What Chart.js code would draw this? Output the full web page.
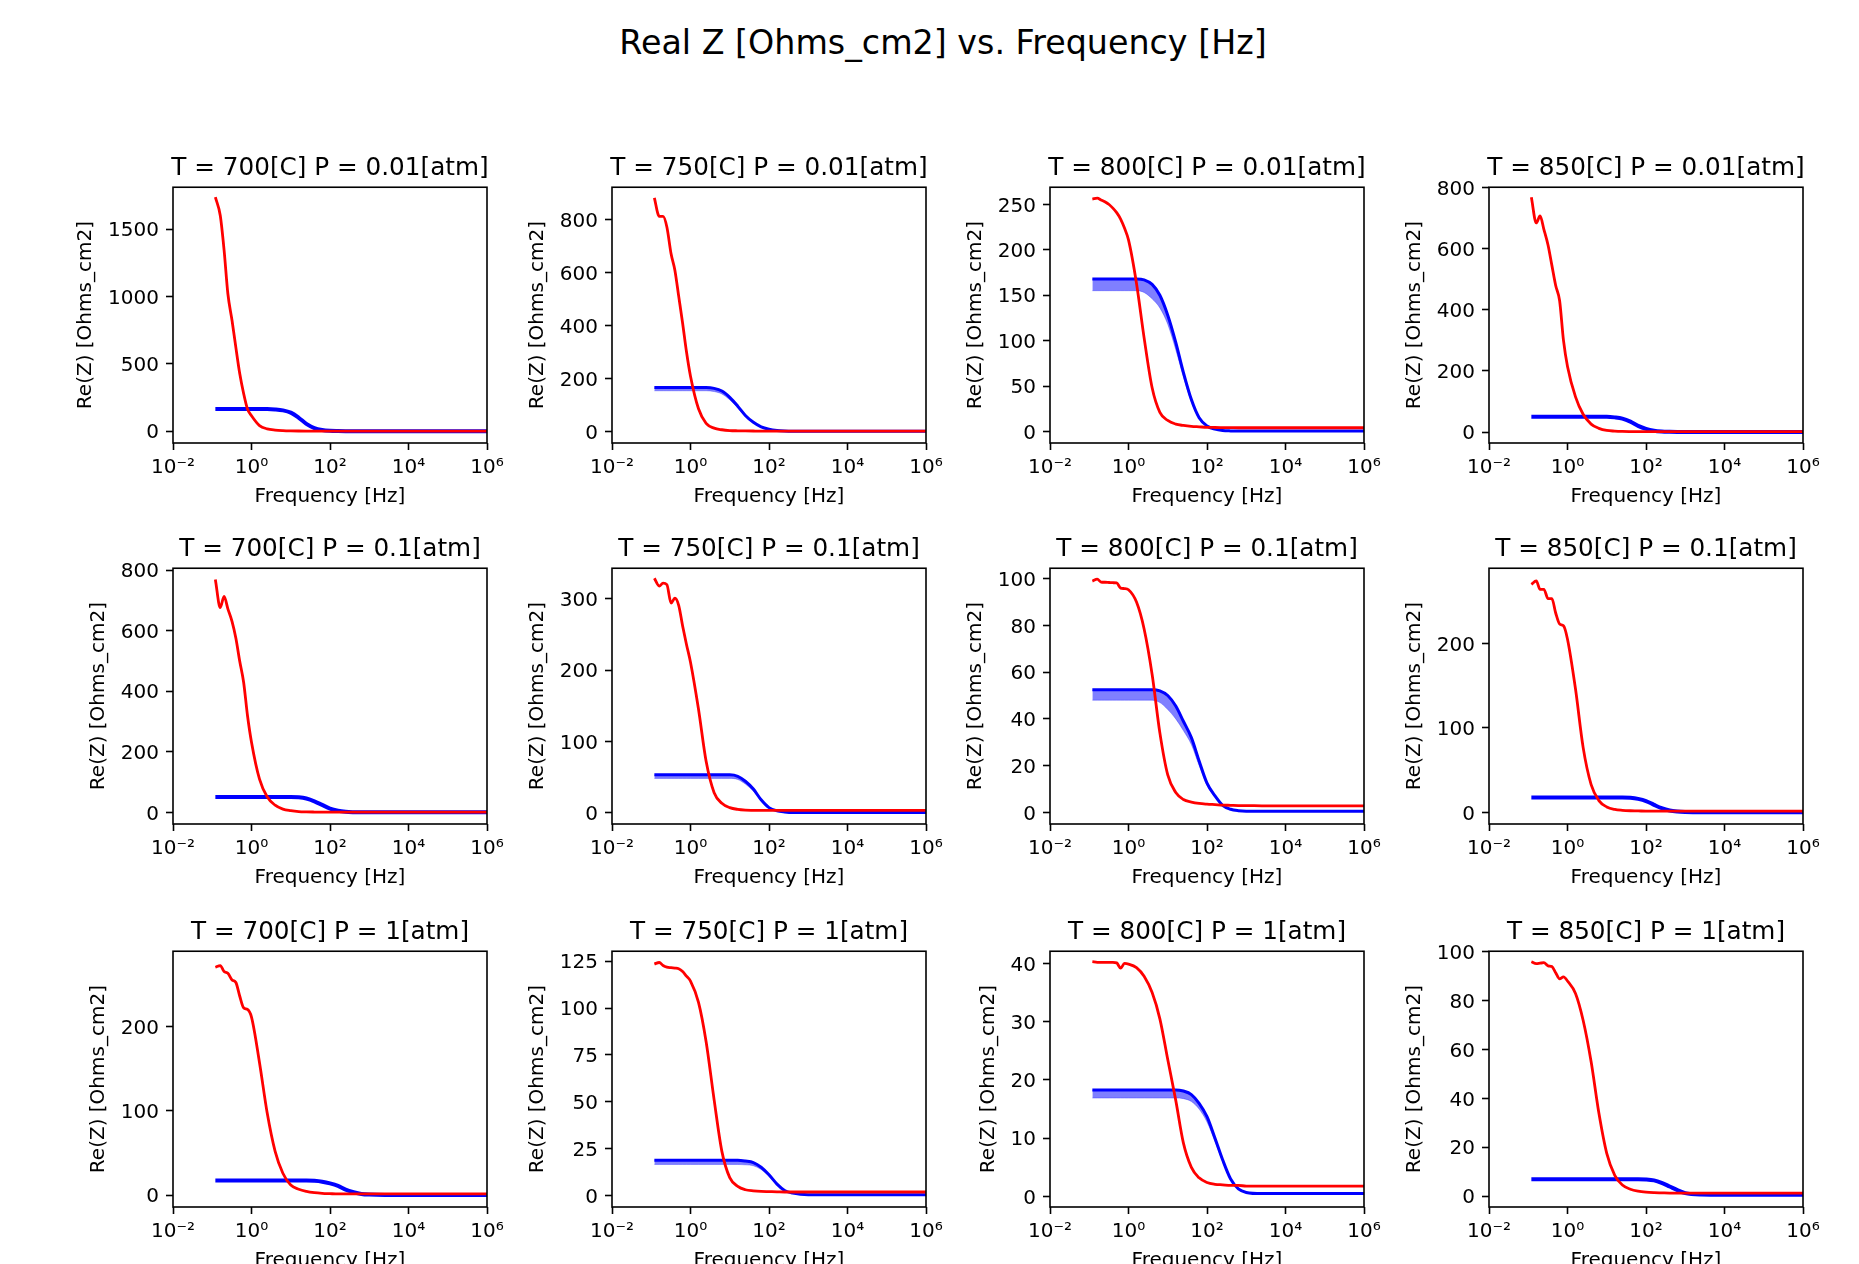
<!DOCTYPE html>
<html lang="en">
<head>
<meta charset="UTF-8">
<title>Real Z vs. Frequency</title>
<script src="https://cdn.jsdelivr.net/npm/chart.js"></script>
<style>
  body { margin: 0; background: #fff; width: 1859px; height: 1264px; position: relative; overflow: hidden; font-family: 'DejaVu Sans', sans-serif; }
  #suptitle { position: absolute; left: 943px; top: 24px; transform: translateX(-50%); font-size: 33.3px; line-height: 38px; color: #000; white-space: nowrap; }
  canvas { position: absolute; }
</style>
</head>
<body>
<div id="suptitle">Real Z [Ohms_cm2] vs. Frequency [Hz]</div>
<div id="grid"></div>

<script>
// frequency points (Hz), shared by every panel
const freqHz = [0.12, 0.16, 0.2, 0.25, 0.32, 0.4, 0.5, 0.63, 0.79, 1, 1.6, 2.5, 4, 6.3, 10, 16, 25, 40, 63, 100, 160, 250, 400, 630, 1000, 2500, 10000, 100000, 1000000];

// red = measured Re(Z), blue = fitted Re(Z) (upper and lower edge of the band)
const red_700_001 = [1736, 1600, 1345, 1020, 820, 620, 430, 280, 165, 115, 42, 18, 9, 5, 3, 2, 1.5, 1.2, 1, 1, 1, 1, 1, 1, 1, 1, 1, 1, 1];
const blue_700_001 = [165, 165, 165, 165, 165, 165, 165, 165, 165, 165, 165, 165, 162, 155, 138, 100, 55, 24, 10, 4, 2, 1, 0.5, 0.5, 0.5, 0.5, 0.5, 0.5, 0.5];

const red_750_001 = [881, 811, 811, 771, 670, 608, 510, 408, 300, 208, 85, 30, 12, 6, 3, 2, 1.5, 1.2, 1, 1, 1, 1, 1, 1, 1, 1, 1, 1, 1];
const blue_750_001 = [165, 165, 165, 165, 165, 165, 165, 165, 165, 165, 165, 165, 162, 152, 128, 95, 60, 34, 17, 8, 3, 1, 0.3, 0.3, 0.3, 0.3, 0.3, 0.3, 0.3];
const blueLo_750_001 = [153, 153, 153, 153, 153, 153, 153, 153, 153, 153, 153, 153, 150, 141, 119, 88, 56, 32, 16, 7.5, 2.8, 1, 0.3, 0.3, 0.3, 0.3, 0.3, 0.3, 0.3];

const red_800_001 = [256, 257, 255, 253, 250, 246, 241, 234, 224, 211, 163, 103, 48, 21, 12, 8, 6.5, 5.5, 5, 4.5, 4.3, 4.2, 4.1, 4, 4, 4, 4, 4, 4];
const blue_800_001 = [168, 168, 168, 168, 168, 168, 168, 168, 168, 168, 168, 167, 162, 150, 128, 98, 65, 35, 15, 6, 2.5, 1, 0.5, 0.3, 0.3, 0.3, 0.3, 0.3, 0.3];
const blueLo_800_001 = [155, 155, 155, 155, 155, 155, 155, 155, 155, 155, 155, 153, 146, 136, 118, 90, 60, 32, 14, 5.5, 2, 1, 0.5, 0.3, 0.3, 0.3, 0.3, 0.3, 0.3];

const red_850_001 = [769, 685, 708, 664, 612, 546, 480, 430, 300, 215, 115, 58, 26, 12, 5, 3, 2, 1.5, 1.2, 1, 1, 1, 1, 1, 1, 1, 1, 1, 1];
const blue_850_001 = [50, 50, 50, 50, 50, 50, 50, 50, 50, 50, 50, 50, 50, 50, 50, 48, 44, 34, 20, 10, 4, 1.5, 0.6, 0.3, 0.3, 0.3, 0.3, 0.3, 0.3];

const red_700_01 = [769, 676, 713, 672, 630, 575, 500, 430, 320, 232, 110, 52, 24, 11, 6, 3, 2, 1.5, 1.2, 1, 1, 1, 1, 1, 1, 1, 1, 1, 1];
const blue_700_01 = [51, 51, 51, 51, 51, 51, 51, 51, 51, 51, 51, 51, 51, 51, 51, 50, 46, 37, 25, 13, 6, 2.5, 1, 0.4, 0.4, 0.4, 0.4, 0.4, 0.4];

const red_750_01 = [329, 318, 322, 320, 294, 301, 291, 262, 236, 211, 145, 72, 28, 13, 7, 4.5, 3.5, 3.2, 3, 3, 3, 3, 3, 3, 3, 3, 3, 3, 3];
const blue_750_01 = [53, 53, 53, 53, 53, 53, 53, 53, 53, 53, 53, 53, 53, 53, 53, 51, 44, 33, 18, 7, 2.5, 1, 0.3, 0.3, 0.3, 0.3, 0.3, 0.3, 0.3];
const blueLo_750_01 = [48, 48, 48, 48, 48, 48, 48, 48, 48, 48, 48, 48, 48, 48, 48, 46.5, 40, 30, 16.5, 6.5, 2.3, 1, 0.3, 0.3, 0.3, 0.3, 0.3, 0.3, 0.3];

const red_800_01 = [99, 99.8, 98.6, 98.5, 98.4, 98.3, 98.2, 96, 95.8, 95.3, 90, 78.5, 59, 34, 16, 8.5, 5.5, 4.4, 3.8, 3.5, 3.3, 3.1, 3, 2.9, 2.9, 2.8, 2.8, 2.8, 2.8];
const blue_800_01 = [52.5, 52.5, 52.5, 52.5, 52.5, 52.5, 52.5, 52.5, 52.5, 52.5, 52.5, 52.5, 52.5, 52, 50, 45.5, 39, 32, 22, 12.5, 7, 3, 1.3, 0.7, 0.5, 0.5, 0.5, 0.5, 0.5];
const blueLo_800_01 = [48, 48, 48, 48, 48, 48, 48, 48, 48, 48, 48, 48, 48, 47, 44, 40, 35, 29, 20, 11.5, 6.5, 2.8, 1.3, 0.7, 0.5, 0.5, 0.5, 0.5, 0.5];

const red_850_01 = [270, 274, 264, 264, 253, 253, 236, 223, 221, 205, 146, 77, 33, 14, 6.5, 3.5, 2.5, 2, 1.8, 1.5, 1.5, 1.5, 1.5, 1.5, 1.5, 1.5, 1.5, 1.5, 1.5];
const blue_850_01 = [17.7, 17.7, 17.7, 17.7, 17.7, 17.7, 17.7, 17.7, 17.7, 17.7, 17.7, 17.7, 17.7, 17.7, 17.7, 17.7, 17.7, 17.3, 16, 13.5, 9, 5, 2.2, 1, 0.5, 0.2, 0.2, 0.2, 0.2];

const red_700_1 = [270, 272, 265, 263, 255, 252, 236, 222, 220, 211, 157, 98, 52, 26, 12, 7, 4.5, 3, 2.2, 1.8, 1.5, 1.5, 1.5, 1.5, 1.5, 1.5, 1.5, 1.5, 1.5];
const blue_700_1 = [17.3, 17.3, 17.3, 17.3, 17.3, 17.3, 17.3, 17.3, 17.3, 17.3, 17.3, 17.3, 17.3, 17.3, 17.3, 17.3, 17.3, 17, 16, 14, 11, 6.5, 3.5, 1.5, 0.7, 0.3, 0.3, 0.3, 0.3];

const red_750_1 = [123.5, 124.3, 122.7, 121.8, 121.5, 121.3, 121, 119.5, 117, 114.4, 103, 82, 51, 23.5, 9.5, 4.8, 3, 2.4, 2.1, 2, 1.9, 1.8, 1.8, 1.8, 1.8, 1.8, 1.8, 1.8, 1.8];
const blue_750_1 = [18.7, 18.7, 18.7, 18.7, 18.7, 18.7, 18.7, 18.7, 18.7, 18.7, 18.7, 18.7, 18.7, 18.7, 18.7, 18.7, 18.3, 17.5, 15, 11, 6, 2.6, 1.2, 0.6, 0.4, 0.4, 0.4, 0.4, 0.4];
const blueLo_750_1 = [16.5, 16.5, 16.5, 16.5, 16.5, 16.5, 16.5, 16.5, 16.5, 16.5, 16.5, 16.5, 16.5, 16.5, 16.5, 16.5, 16.3, 15.8, 13.8, 10.2, 5.6, 2.5, 1.2, 0.6, 0.4, 0.4, 0.4, 0.4, 0.4];

const red_800_1 = [40.3, 40.2, 40.2, 40.2, 40.2, 40.2, 40.1, 39.2, 40, 39.9, 39.3, 37.8, 35, 30.5, 23.5, 16.5, 9.2, 5, 3.2, 2.4, 2.1, 2, 1.9, 1.9, 1.8, 1.8, 1.8, 1.8, 1.8];
const blue_800_1 = [18.3, 18.3, 18.3, 18.3, 18.3, 18.3, 18.3, 18.3, 18.3, 18.3, 18.3, 18.3, 18.3, 18.3, 18.3, 18.3, 18.1, 17.5, 16, 13.7, 10, 6.3, 3, 1.3, 0.7, 0.5, 0.5, 0.5, 0.5];
const blueLo_800_1 = [16.9, 16.9, 16.9, 16.9, 16.9, 16.9, 16.9, 16.9, 16.9, 16.9, 16.9, 16.9, 16.9, 16.9, 16.9, 16.9, 16.8, 16.3, 15, 12.8, 9.4, 6, 2.9, 1.3, 0.7, 0.5, 0.5, 0.5, 0.5];

const red_850_1 = [96, 95.2, 95.4, 95.6, 94.3, 94, 91.5, 89, 89.8, 88.1, 83, 72, 55, 34, 17.5, 8.5, 4.5, 2.8, 2, 1.6, 1.4, 1.3, 1.2, 1.2, 1.2, 1.2, 1.2, 1.2, 1.2];
const blue_850_1 = [6.9, 6.9, 6.9, 6.9, 6.9, 6.9, 6.9, 6.9, 6.9, 6.9, 6.9, 6.9, 6.9, 6.9, 6.9, 6.9, 6.9, 6.9, 6.9, 6.8, 6.4, 5.4, 3.9, 2.4, 1.2, 0.6, 0.5, 0.5, 0.5];

// panels, row by row
const panelTitles = [
  'T = 700[C] P = 0.01[atm]', 'T = 750[C] P = 0.01[atm]', 'T = 800[C] P = 0.01[atm]', 'T = 850[C] P = 0.01[atm]',
  'T = 700[C] P = 0.1[atm]', 'T = 750[C] P = 0.1[atm]', 'T = 800[C] P = 0.1[atm]', 'T = 850[C] P = 0.1[atm]',
  'T = 700[C] P = 1[atm]', 'T = 750[C] P = 1[atm]', 'T = 800[C] P = 1[atm]', 'T = 850[C] P = 1[atm]'
];
const measured = [red_700_001, red_750_001, red_800_001, red_850_001, red_700_01, red_750_01, red_800_01, red_850_01, red_700_1, red_750_1, red_800_1, red_850_1];
const fitted = [blue_700_001, blue_750_001, blue_800_001, blue_850_001, blue_700_01, blue_750_01, blue_800_01, blue_850_01, blue_700_1, blue_750_1, blue_800_1, blue_850_1];
const fittedLow = [null, blueLo_750_001, blueLo_800_001, null, null, blueLo_750_01, blueLo_800_01, null, null, blueLo_750_1, blueLo_800_1, null];

const yLimits = [[-87, 1810], [-44, 921], [-12.8, 269], [-36, 802], [-38, 806], [-16, 343], [-5, 104.5], [-13.7, 289], [-14, 289], [-6.2, 130.3], [-1.8, 42.1], [-4.5, 100.3]];
const yTicks = [
  [0, 500, 1000, 1500], [0, 200, 400, 600, 800], [0, 50, 100, 150, 200, 250], [0, 200, 400, 600, 800],
  [0, 200, 400, 600, 800], [0, 100, 200, 300], [0, 20, 40, 60, 80, 100], [0, 100, 200],
  [0, 100, 200], [0, 25, 50, 75, 100, 125], [0, 10, 20, 30, 40], [0, 20, 40, 60, 80, 100]
];
const xTickValues = [0.01, 1, 100, 10000, 1000000];
const xTickLabels = ['10⁻²', '10⁰', '10²', '10⁴', '10⁶'];

// layout of the grid (plot area boxes)
const colLeft = [173, 612, 1050, 1489];
const rowTop = [187, 568, 951];
const PW = 314, PH = 256;
const YW = 125, XH = 75, TOPH = 40;

Chart.defaults.font.family = "'DejaVu Sans', sans-serif";
Chart.defaults.font.size = 20;
Chart.defaults.color = '#000';

const mctx = document.createElement('canvas').getContext('2d');
mctx.font = "20px 'DejaVu Sans', sans-serif";

const frame = {
  id: 'frame',
  afterDatasetsDraw(chart) {
    const { ctx, chartArea: a } = chart;
    ctx.save();
    ctx.strokeStyle = '#000';
    ctx.lineWidth = 1.6;
    ctx.strokeRect(a.left, a.top, a.right - a.left, a.bottom - a.top);
    ctx.restore();
  }
};

const axisGrid = { drawOnChartArea: false, drawTicks: true, tickLength: 7, tickWidth: 1.6, tickColor: '#000', color: '#000' };

const host = document.getElementById('grid');

for (let i = 0; i < 12; i++) {
  const col = i % 4, row = Math.floor(i / 4);
  const cv = document.createElement('canvas');
  cv.width = YW + PW + YW;
  cv.height = TOPH + PH + XH;
  cv.style.left = (colLeft[col] - YW) + 'px';
  cv.style.top = (rowTop[row] - TOPH) + 'px';
  host.appendChild(cv);

  // widest y tick label, so the y title sits just left of it
  const labelW = Math.max(...yTicks[i].map(v => mctx.measureText(String(v)).width));
  const yTitlePad = YW - labelW - 48;

  const datasets = [{
    data: freqHz.map((f, k) => ({ x: f, y: measured[i][k] })),
    borderColor: '#ff0000', borderWidth: 2.8, pointRadius: 0,
    cubicInterpolationMode: 'monotone', fill: false, order: 0, yAxisID: 'y'
  }, {
    data: freqHz.map((f, k) => ({ x: f, y: fitted[i][k] })),
    borderColor: '#0000ff', borderWidth: fittedLow[i] ? 3 : 4, pointRadius: 0,
    cubicInterpolationMode: 'monotone', fill: false, order: 1, yAxisID: 'y'
  }];
  if (fittedLow[i]) {
    datasets.push({
      data: freqHz.map((f, k) => ({ x: f, y: fittedLow[i][k] })),
      borderColor: 'rgba(0,0,255,0.3)', backgroundColor: 'rgba(0,0,255,0.5)',
      borderWidth: 1, pointRadius: 0, cubicInterpolationMode: 'monotone',
      fill: '-1', order: 2, yAxisID: 'y'
    });
  }

  new Chart(cv, {
    type: 'line',
    data: { datasets },
    options: {
      responsive: false,
      animation: false,
      devicePixelRatio: 1,
      layout: { padding: 0 },
      plugins: {
        legend: { display: false },
        tooltip: { enabled: false },
        title: {
          display: true, text: panelTitles[i], color: '#000',
          font: { size: 24.7, weight: 'normal' }, padding: { top: 6.8, bottom: 3.8 }
        }
      },
      scales: {
        x: {
          type: 'logarithmic', min: 0.01, max: 1000000,
          afterBuildTicks: s => { s.ticks = xTickValues.map(v => ({ value: v })); },
          afterFit: s => { s.height = XH; },
          ticks: { autoSkip: false, maxRotation: 0, minRotation: 0, padding: 6, callback: (v, k) => xTickLabels[k] },
          grid: axisGrid,
          border: { display: false },
          title: { display: true, text: 'Frequency [Hz]', padding: { top: 0, bottom: 9.5 } }
        },
        y: {
          type: 'linear', position: 'left', min: yLimits[i][0], max: yLimits[i][1],
          afterBuildTicks: s => { s.ticks = yTicks[i].map(v => ({ value: v })); },
          afterFit: s => { s.width = YW; },
          ticks: { padding: 7, labelOffset: 2, callback: v => String(v) },
          grid: axisGrid,
          border: { display: false },
          title: { display: true, text: 'Re(Z) [Ohms_cm2]', padding: { top: yTitlePad, bottom: 0 } }
        },
        // empty right-hand box, same width as the left axis, keeps the title centred on the plot
        yRight: {
          type: 'linear', position: 'right', display: true,
          afterFit: s => { s.width = YW; },
          ticks: { display: false },
          grid: { display: false },
          border: { display: false },
          title: { display: false }
        }
      }
    },
    plugins: [frame]
  });
}
</script>
</body>
</html>
